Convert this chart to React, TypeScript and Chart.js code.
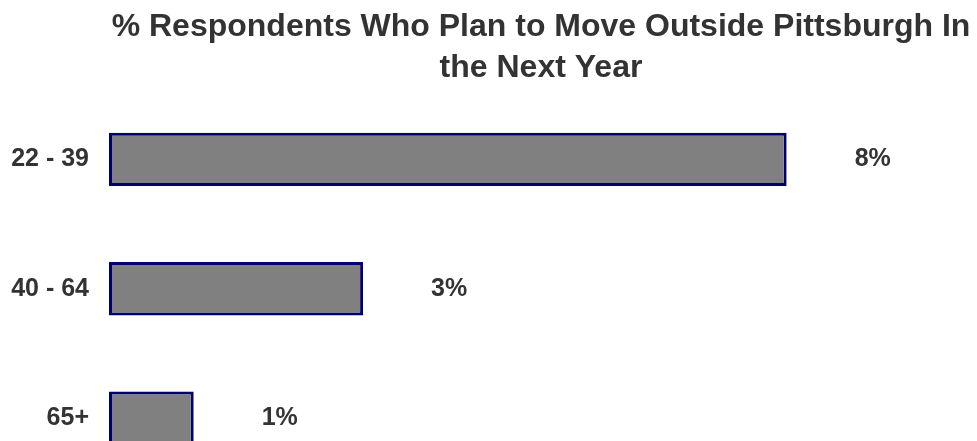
import React, { useEffect, useRef } from "react";
import { Chart, registerables } from "chart.js";

Chart.register(...registerables);

const titleLines = ["% Respondents Who Plan to Move Outside Pittsburgh In", "the Next Year"];
const categories = ["22 - 39", "40 - 64", "65+"];
const values = [8, 3, 1];
const valueLabels = ["8%", "3%", "1%"];

const TEXT = "#333333";
const FONT = "Arial, 'Liberation Sans', sans-serif";
const CANVAS_W = 977;
const CANVAS_H = 518;

const labelPlugin = {
  id: "valueLabels",
  afterDatasetsDraw(chart: any) {
    const ctx = chart.ctx;
    const meta = chart.getDatasetMeta(0);
    ctx.save();
    ctx.font = `bold 25px ${FONT}`;
    ctx.fillStyle = TEXT;
    ctx.textAlign = "left";
    ctx.textBaseline = "middle";
    meta.data.forEach((bar: any, i: number) => {
      ctx.fillText(valueLabels[i], bar.x + 68, bar.y);
    });
    ctx.restore();
  },
};

export default function App() {
  const ref = useRef<HTMLCanvasElement | null>(null);
  useEffect(() => {
    if (!ref.current) return;
    const chart = new Chart(ref.current, {
      type: "bar",
      data: {
        labels: categories,
        datasets: [
          {
            data: values,
            backgroundColor: "#808080",
            borderColor: "#000070",
            borderWidth: 3,
            borderSkipped: false,
            barPercentage: 1,
            categoryPercentage: 0.413,
          },
        ],
      },
      options: {
        indexAxis: "y",
        responsive: false,
        animation: false,
        devicePixelRatio: 1,
        layout: { padding: { left: 0, right: 4, top: 0, bottom: 0 } },
        plugins: {
          legend: { display: false },
          tooltip: { enabled: false },
          title: {
            display: true,
            text: titleLines,
            fullSize: false,
            color: TEXT,
            font: { family: FONT, size: 32, weight: "bold", lineHeight: 1.28 },
            padding: { top: 6.5, bottom: 6.25 },
          },
        },
        scales: {
          x: { display: false, min: 0, max: 10.2 },
          y: {
            grid: { display: false, drawTicks: false },
            border: { display: false },
            ticks: { color: TEXT, padding: 20, font: { family: FONT, size: 25, weight: "bold" } },
            afterFit(scale: any) {
              scale.width = 109;
            },
          },
        },
      },
      plugins: [labelPlugin],
    });
    return () => chart.destroy();
  }, []);
  return (
    <div style={{ position: "fixed", left: 0, top: 0, width: CANVAS_W, height: CANVAS_H, background: "#fff" }}>
      <canvas ref={ref} width={CANVAS_W} height={CANVAS_H} style={{ display: "block" }} />
    </div>
  );
}
